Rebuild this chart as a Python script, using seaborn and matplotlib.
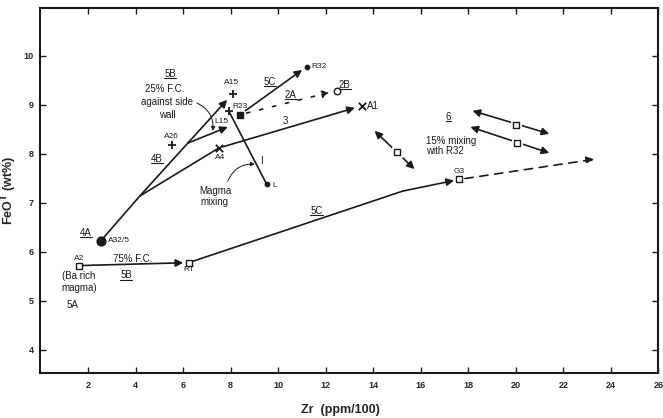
import matplotlib.pyplot as plt
import numpy as np
import pandas as pd
import seaborn as sns

# analysed samples: Zr (ppm/100) and FeO* (wt%)
sample_names = ["A2", "A32/5", "RT", "G3", "A26", "A15", "L15", "R23", "A4", "A1", "R32", "2B", "L"]
sample_zr = [1.62, 2.55, 6.24, 17.63, 5.53, 8.09, 7.92, 8.39, 7.50, 13.51, 11.20, 12.46, 9.52]
sample_feo = [5.72, 6.23, 5.78, 7.48, 8.18, 9.23, 8.88, 8.80, 8.12, 8.98, 9.78, 9.29, 7.38]

# mixing products (open squares on the double arrows)
mix_zr = [15.02, 19.99, 20.07]
mix_feo = [8.04, 8.59, 8.22]

# branch points of the fractionation trends
junction_low = (4.18, 7.14)
junction_high = (6.20, 8.22)
side_wall_end = (7.88, 8.55)
bend_5c = (15.24, 7.24)
g3_extension = (23.30, 7.89)

# double-arrow mixing lines (end points)
mix_lines = [((14.06, 8.47), (15.74, 7.69)),
             ((18.18, 8.88), (21.41, 8.41)),
             ((18.09, 8.55), (21.41, 8.02))]

df = pd.DataFrame({"name": sample_names, "zr": sample_zr, "feo": sample_feo})
pt = {n: (x, y) for n, x, y in zip(sample_names, sample_zr, sample_feo)}

sns.set_theme(style="ticks")
plt.rcParams["font.family"] = ["Liberation Sans", "DejaVu Sans"]

fig = plt.figure(figsize=(6.63, 4.18), dpi=100)
ax = fig.add_axes([0.061, 0.108, 0.932, 0.873])
ax.set_xlim(0, 26)
ax.set_ylim(3.53, 10.98)

lw = 1.2


def seg(a, b, **kw):
    sns.lineplot(x=[a[0], b[0]], y=[a[1], b[1]], ax=ax, color="k", lw=lw,
                 sort=False, estimator=None, legend=False, **kw)


def arrow(a, b, style="-|>", ls="-", shrinkA=0, shrinkB=0):
    ax.annotate("", xy=b, xytext=a,
                arrowprops=dict(arrowstyle=style, color="k", lw=lw, ls=ls,
                                mutation_scale=11, shrinkA=shrinkA, shrinkB=shrinkB))


# trend lines
arrow(pt["A2"], pt["RT"], shrinkB=4)
seg(pt["A32/5"], junction_low)
seg(junction_low, junction_high)
arrow(junction_high, pt["A15"], shrinkB=6)
arrow(junction_high, side_wall_end)
seg(junction_low, pt["A4"])
arrow(pt["A4"], pt["A1"], shrinkA=3, shrinkB=5)
arrow(pt["R23"], pt["R32"], shrinkA=5, shrinkB=4)
arrow(pt["R23"], pt["2B"], ls=(0, (2, 6)), shrinkA=5, shrinkB=5)
seg(pt["L15"], pt["L"])
seg(pt["RT"], bend_5c)
arrow(bend_5c, pt["G3"], shrinkB=4)
arrow(pt["G3"], g3_extension, ls=(0, (5, 4)), shrinkA=4)
for a, b in mix_lines:
    arrow(a, b, style="<|-|>")

# curved leaders
ax.annotate("", xy=(7.25, 8.47), xytext=(6.58, 9.04),
            arrowprops=dict(arrowstyle="-|>", color="k", lw=0.7, mutation_scale=6,
                            connectionstyle="arc3,rad=-0.35", shrinkA=0, shrinkB=0))
ax.annotate("", xy=(9.02, 7.79), xytext=(7.88, 7.44),
            arrowprops=dict(arrowstyle="-|>", color="k", lw=0.7, mutation_scale=6,
                            connectionstyle="arc3,rad=-0.35", shrinkA=0, shrinkB=0))

# markers
marker_of = {"A2": "s", "RT": "s", "G3": "s", "A26": "P", "A15": "P", "L15": "P",
             "R23": "s", "A4": "X", "A1": "X", "R32": "o", "L": "o", "2B": "o", "A32/5": "o"}
open_pts = {"A2", "RT", "G3", "2B"}
size_of = {"A32/5": 40, "R23": 14, "R32": 10, "L": 10}
for name, row in df.set_index("name").iterrows():
    m = marker_of[name]
    face = "white" if name in open_pts else "k"
    s = size_of.get(name, 22)
    if m in ("P", "X"):
        sns.scatterplot(x=[row.zr], y=[row.feo], ax=ax, marker="+" if m == "P" else "x",
                        s=28, color="k", linewidth=1.3, zorder=5, legend=False)
    else:
        sns.scatterplot(x=[row.zr], y=[row.feo], ax=ax, marker=m, s=s, facecolor=face,
                        edgecolor="k", linewidth=1.0, zorder=5, legend=False)
sns.scatterplot(x=mix_zr, y=mix_feo, ax=ax, marker="s", s=55, color="white",
                edgecolor="white", zorder=4, legend=False)
sns.scatterplot(x=mix_zr, y=mix_feo, ax=ax, marker="s", s=20, facecolor="white",
                edgecolor="k", linewidth=1.0, zorder=5, legend=False)

# labels
fs = 7
small = 6
labels = [
    ("25% F.C.", 5.24, 9.33, fs, "center"),
    ("against side", 5.32, 9.06, fs, "center"),
    ("wall", 5.32, 8.80, fs, "center"),
    ("A26", 5.53, 8.36, small, "center"),
    ("A15", 8.05, 9.45, small, "center"),
    ("R23", 8.39, 8.96, small, "center"),
    ("L15", 7.63, 8.67, small, "center"),
    ("3", 10.32, 8.67, fs, "center"),
    ("A4", 7.55, 7.93, small, "center"),
    ("R32", 11.42, 9.78, small, "left"),
    ("A1", 13.72, 8.98, fs, "left"),
    ("I", 9.31, 7.85, fs, "center"),
    ("L", 9.76, 7.36, small, "left"),
    ("Magma", 7.34, 7.24, fs, "center"),
    ("mixing", 7.34, 7.02, fs, "center"),
    ("15% mixing", 16.24, 8.26, fs, "left"),
    ("with R32", 16.24, 8.05, fs, "left"),
    ("G3", 17.63, 7.65, small, "center"),
    ("A32/5", 2.84, 6.23, small, "left"),
    ("A2", 1.62, 5.86, small, "center"),
    ("(Ba rich", 1.62, 5.50, fs, "center"),
    ("magma)", 1.62, 5.27, fs, "center"),
    ("5A", 1.33, 4.92, fs, "center"),
    ("75% F.C.", 3.89, 5.86, fs, "center"),
    ("RT", 6.24, 5.64, small, "center"),
]
for t, x, y, s, ha in labels:
    ax.text(x, y, t, fontsize=s, ha=ha, va="center", color="k")

underlined = [
    ("5B", 5.45, 9.64), ("4B", 4.90, 7.89), ("5C", 9.65, 9.47), ("2A", 10.53, 9.20),
    ("2B", 12.80, 9.41), ("6", 17.17, 8.75), ("5C", 11.62, 6.83), ("4A", 1.92, 6.38),
    ("5B", 3.60, 5.52),
]
u_texts = [ax.text(x, y, t, fontsize=fs, ha="center", va="center", color="k")
           for t, x, y in underlined]

# axes styling
ax.set_xticks(np.arange(2, 27, 2))
ax.set_yticks(np.arange(4, 11, 1))
ax.tick_params(direction="in", top=True, right=True, labeltop=False, labelright=False,
               length=4, width=1.0, labelsize=6.5, color="k")
for lab in ax.get_xticklabels() + ax.get_yticklabels():
    lab.set_fontweight("bold")
ax.tick_params(axis="x", pad=6)
ax.tick_params(axis="y", pad=5)
for sp in ax.spines.values():
    sp.set_visible(True)
    sp.set_linewidth(1.5)
    sp.set_color("k")
ax.set_xlabel("Zr  (ppm/100)", fontsize=9, fontweight="bold")
ax.set_ylabel(r"FeO$^{\mathbf{T}}$ (wt%)", fontsize=9, fontweight="bold")
ax.xaxis.set_label_coords(0.485, -0.085)
ax.yaxis.set_label_coords(-0.035, 0.5)

fig.canvas.draw()
inv = fig.transFigure.inverted()
for t in u_texts:
    bb = t.get_window_extent().transformed(inv)
    fig.add_artist(plt.Line2D([bb.x0, bb.x1], [bb.y0 + 0.002, bb.y0 + 0.002],
                              color="k", lw=0.8, transform=fig.transFigure))

fig.savefig("out.png", dpi=100)
